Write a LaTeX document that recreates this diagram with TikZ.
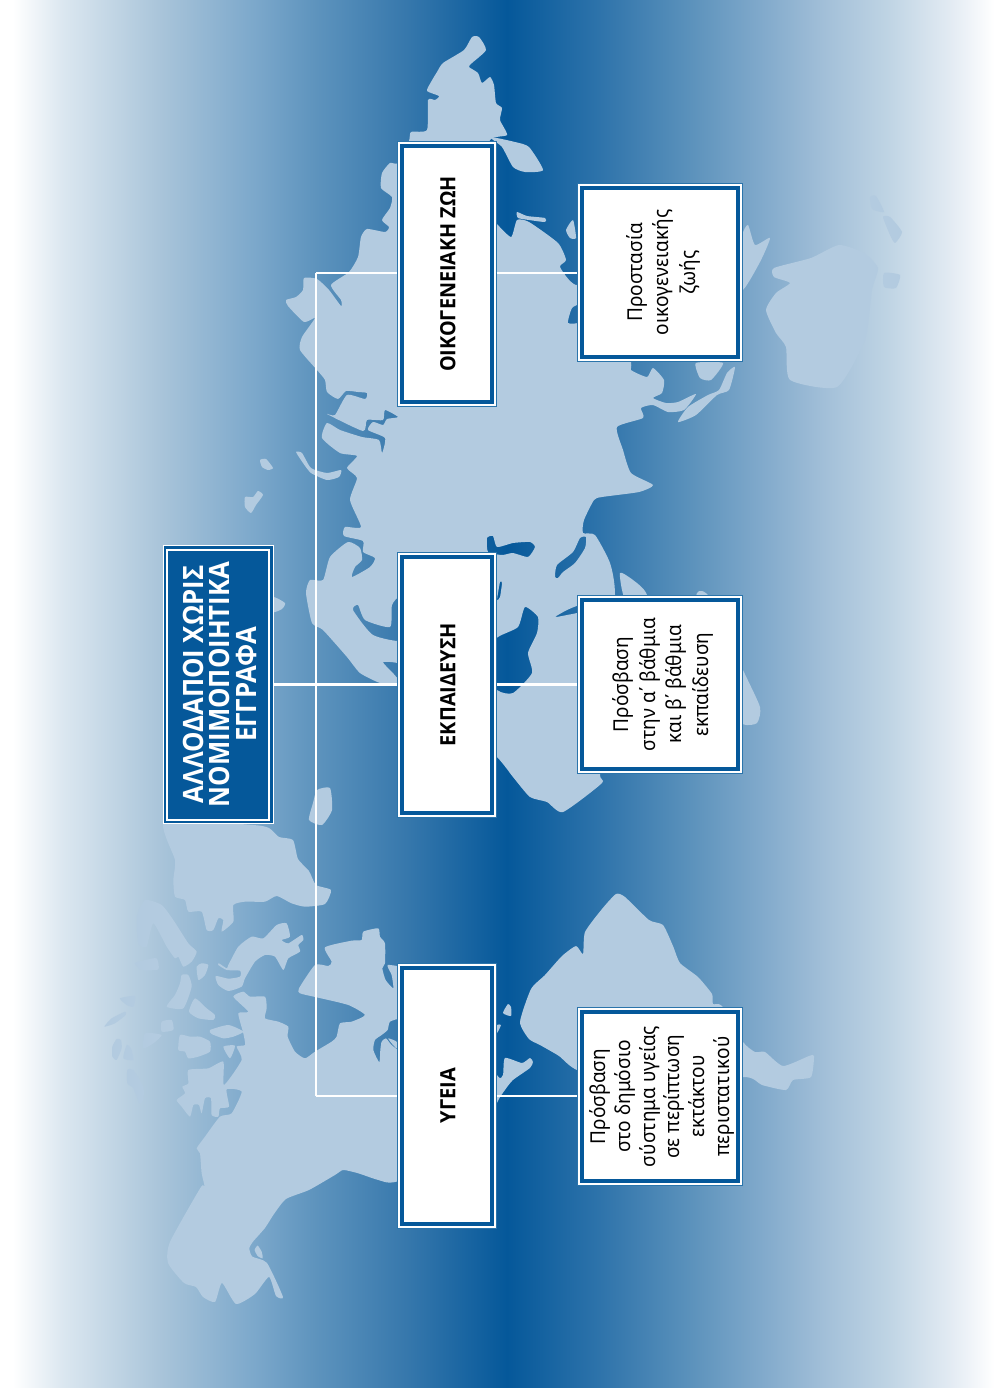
\documentclass[tikz,border=0pt]{standalone}
\usepackage{fontspec}
\setmainfont{Noto Sans}
\newfontfamily\boldface{Open Sans}[Scale=1]
\definecolor{land}{HTML}{B3CBE0}
\definecolor{boxblue}{HTML}{05589A}
\definecolor{hair}{HTML}{2A74AB}
\definecolor{ga}{HTML}{FFFFFF}\definecolor{gb}{HTML}{DBE7F0}\definecolor{gc}{HTML}{AAC5DA}
\definecolor{gd}{HTML}{7CA8CB}\definecolor{ge}{HTML}{5D93BD}\definecolor{gf}{HTML}{3476AB}
\definecolor{gg}{HTML}{05589A}\definecolor{gh}{HTML}{2F74AB}\definecolor{gi}{HTML}{5F94BD}
\definecolor{gj}{HTML}{80A9CB}\definecolor{gk}{HTML}{A2BFD8}\definecolor{gl}{HTML}{BFD4E4}
\definecolor{gm}{HTML}{E3EBF3}
\pgfdeclarehorizontalshading{bgfade}{100bp}{color(0bp)=(ga);color(25.65bp)=(ga);color(28.17bp)=(gb);color(32.95bp)=(gc);color(37.78bp)=(gd);color(40.95bp)=(ge);color(45.72bp)=(gf);color(50.5bp)=(gg);color(55.28bp)=(gh);color(60.06bp)=(gi);color(63.23bp)=(gj);color(66.45bp)=(gk);color(69.67bp)=(gl);color(72.84bp)=(gm);color(75bp)=(ga);color(100bp)=(ga)}
\tikzset{
 poly/.style={smooth cycle,tension=.35},
 landfill/.style={fill=land,draw=none},
 zsix/.style={shift={(95,880)},x=.3333pt,y=-.3333pt},
 wbox/.style={draw=hair,line width=.8pt,fill=white,inner sep=0pt,text=black,
  path picture={\draw[boxblue,line width=4pt] ([xshift=4.5pt,yshift=-4.5pt]path picture bounding box.north west) rectangle ([xshift=-4.5pt,yshift=4.5pt]path picture bounding box.south east);}},
 tbox/.style={draw=white,line width=.8pt,fill=boxblue,inner sep=0pt,text=white,
  path picture={\draw[white,line width=2pt] ([xshift=4pt,yshift=-4pt]path picture bounding box.north west) rectangle ([xshift=-4pt,yshift=4pt]path picture bounding box.south east);}},
 headbox/.style={wbox,minimum width=99pt,minimum height=265pt},
 subbox/.style={wbox,minimum width=165pt,minimum height=178pt},
 link/.style={white,line width=2.2pt},
}
\newcommand{\vtext}[4]{\rotatebox{90}{\scalebox{#1}[1]{\parbox{#2}{\lineskiplimit=-20pt\centering #3 #4\par}}}}
\newcommand{\fh}{\boldface\bfseries\fontsize{21}{26}\selectfont}
\newcommand{\fs}{\fontsize{20.5}{26.5}\selectfont}
\newcommand{\fss}{\fontsize{20.5}{24.7}\selectfont}
\newcommand{\ft}{\boldface\bfseries\fontsize{28}{26.5}\selectfont}
\begin{document}
\begin{tikzpicture}[x=1pt,y=-1pt]
\useasboundingbox (0,0) rectangle (994,1388);
\shade[shading=bgfade] (0,0) rectangle (994,1388);
% Eurasia + Africa
\fill[landfill,even odd rule]
 plot[poly] coordinates {(472,37)(464,50)(443,63)(437,72)(431,82)(427,91)(439,96)(435,100)(428,100)(427,130)(411,132)(409,141)(398,163)(390,163)(382,173)(381,188)(392,197)(390,208)(382,220)(389,227)(385,232)(367,229)(361,237)(358,257)(349,272)(331,285)(341,300)(341,306)(329,290)(317,279)(304,278)(303,290)(296,297)(286,300)(288,306)(304,322)(315,318)(302,337)(300,350)(317,370)(325,380)(327,392)(338,399)(346,391)(358,392)(367,393)(365,399)(347,395)(335,415)(327,414)(363,431)(367,420)(383,420)(385,410)(398,417)(387,419)(383,425)(373,422)(368,430)(385,438)(382,453)(379,440)(362,437)(340,430)(327,423)(322,438)(340,453)(357,456)(347,468)(357,478)(350,500)(361,527)(345,527)(344,536)(363,541)(363,552)(375,558)(370,567)(352,577)(355,567)(362,560)(360,548)(348,542)(330,557)(323,580)(310,580)(306,593)(312,623)(323,630)(347,657)(360,673)(380,683)(397,684)(440,700)(497,757)(513,777)(530,797)(547,802)(563,812)(602,783)(600,773)(610,700)(615,595)(610,563)(595,535)(583,533)(584,520)(594,500)(602,497)(639,492)(653,485)(631,473)(623,450)(617,427)(643,418)(641,408)(653,405)(668,412)(684,410)(696,394)(678,402)(666,403)(653,398)(662,393)(664,380)(653,368)(647,377)(631,370)(631,362)(620,280)(576,285)(560,267)(566,260)(558,243)(529,222)(517,220)(511,237)(496,223)(490,215)(480,180)(490,140)(507,135)(500,120)(502,108)(496,103)(494,85)(490,77)(482,83)(478,73)(469,67)(472,63)(486,50)(479,37)}
 plot[poly] coordinates {(497,690)(513,693)(532,673)(528,653)(537,633)(538,617)(525,607)(518,627)(498,637)(470,660)}
 plot[poly] coordinates {(487,538)(493,536)(497,547)(513,543)(530,542)(535,547)(528,557)(513,553)(502,555)(488,552)}
 plot[poly] coordinates {(497,600)(500,582)(502,583)(500,597)}
 plot[poly] coordinates {(555,577)(557,565)(573,552)(580,538)(586,537)(585,548)(575,563)(563,572)(558,578)}
 plot[poly] coordinates {(555,617)(567,610)(580,605)(580,612)(567,615)}
 plot[poly] coordinates {(353,610)(358,605)(365,620)(390,627)(392,605)(400,598)(405,640)(373,635)}
 plot[poly] coordinates {(383,662)(400,664)(400,680)(392,672)}
 plot[poly] coordinates {(572,308)(580,305)(580,322)(568,323)};
% other land of the old world
\fill[landfill] plot[poly] coordinates {(490,137)(515,142)(529,147)(543,170)(525,172)(513,167)(502,147)};
\fill[landfill] plot[poly] coordinates {(620,573)(633,580)(647,595)(655,650)(625,600)};
\fill[landfill] plot[poly] coordinates {(697,593)(710,598)(743,670)(760,707)(757,723)(742,724)(700,700)(690,640)};
\fill[landfill] plot[poly] coordinates {(317,790)(330,788)(332,810)(322,825)(309,820)(313,803)};
\fill[landfill] plot[poly] coordinates {(273,597)(285,603)(282,609)(273,612)};
\fill[landfill] plot[poly] coordinates {(296,452)(302,453)(311,468)(327,473)(341,470)(339,477)(327,480)(311,473)(303,463)};
\fill[landfill] plot[poly] coordinates {(260,460)(266,459)(273,468)(268,470)(262,467)};
\fill[landfill] plot[poly] coordinates {(245,497)(253,497)(258,491)(263,495)(256,505)(251,513)(245,507)};
% east: Australia and islands
\fill[landfill] plot[poly] coordinates {(774,268)(811,258)(839,245)(864,253)(878,268)(872,290)(865,340)(837,387)(790,380)(786,347)(776,333)(766,310)(776,293)(790,283)(774,277)};
\fill[landfill] plot[poly] coordinates {(870,197)(876,196)(884,212)(872,209)};
\fill[landfill] plot[poly] coordinates {(883,217)(890,217)(902,232)(895,243)(890,235)};
\fill[landfill] plot[poly] coordinates {(884,273)(900,275)(896,288)(884,287)};
\fill[landfill] plot[poly] coordinates {(742,237)(748,225)(755,245)(770,238)(760,262)(742,290)};
\fill[landfill] plot[poly] coordinates {(696,363)(723,363)(711,380)(700,378)};
\fill[landfill] plot[poly] coordinates {(735,367)(729,390)(717,395)(696,415)(678,422)(688,407)(708,395)(719,390)(727,373)};
\fill[landfill] plot[poly] coordinates {(566,230)(573,220)(576,238)(570,238)};
\fill[landfill] plot[poly] coordinates {(517,212)(527,216)(545,218)(545,222)(529,220)(518,218)};
% South America
\fill[landfill] plot[poly] coordinates {(616,894)(625,897)(649,920)(663,925)(673,946)(680,963)(698,977)(712,994)(713,1004)(722,1006)(743,1042)(755,1052)(765,1052)(783,1066)(809,1056)(814,1056)(811,1077)(793,1080)(786,1090)(762,1085)(743,1077)(640,1090)(577,1070)(559,1056)(540,1045)(529,1039)(520,1022)(531,989)(545,975)(562,956)(576,946)(583,954)(585,932)(602,909)};
\fill[landfill] plot[poly] coordinates {(508,1004)(511,1007)(511,1016)(503,1013)};
\fill[landfill] plot[poly] coordinates {(497,1025)(501,1025)(497,1033)};
% North America
\begin{scope}[zsix]
\fill[landfill,even odd rule] plot[poly] coordinates {(330,925)(320,880)(315,820)(305,805)(330,770)(375,710)(410,700)(440,635)(395,628)(402,680)(375,685)(370,710)(350,705)(348,655)(330,655)(320,700)(312,675)(295,675)(285,710)(260,680)(245,660)(270,640)(262,620)(280,610)(280,570)(340,565)(385,545)(387,615)(440,540)(425,500)(450,495)(445,460)(430,400)(460,395)(415,350)(445,335)(465,350)(510,350)(515,385)(510,415)(550,425)(580,440)(578,470)(600,515)(630,535)(660,515)(710,485)(725,470)(735,430)(770,425)(810,405)(760,375)(665,352)(615,340)(612,325)(660,255)(700,258)(710,245)(690,202)(770,182)(800,180)(805,155)(850,145)(855,170)(870,190)(870,250)(862,265)(872,300)(895,325)(890,285)(878,255)(935,262)(945,250)(955,262)(1100,400)(1206,585)(1224,585)(1230,534)(1281,549)(1305,534)(1314,546)(1305,564)(1254,600)(1230,630)(1206,669)(1150,820)(905,905)(850,900)(790,880)(745,870)(720,885)(642,930)(573,957)(537,1002)(510,1044)(474,1085)(463,1105)(472,1130)(516,1149)(564,1251)(543,1248)(522,1191)(480,1242)(423,1272)(381,1209)(360,1266)(324,1251)(303,1221)(267,1209)(219,1149)(225,1086)(318,921)}
 plot[poly] coordinates {(920,420)(885,425)(878,450)(860,465)(840,480)(835,510)(853,547)(856,510)(860,485)(873,475)(890,495)(920,512)}
 plot[poly] coordinates {(880,475)(905,485)(905,505)(890,490)};
\fill[landfill] plot[poly] coordinates {(488,1097)(500,1115)(503,1135)(488,1128)(479,1110)};
\fill[landfill] plot[poly] coordinates {(210,-177)(474,-165)(522,-156)(552,-129)(594,-120)(609,-63)(642,-27)(663,15)(708,30)(690,72)(630,80)(590,70)(545,48)(510,65)(450,65)(415,75)(415,125)(380,155)(385,120)(370,115)(355,150)(335,150)(320,95)(280,95)(270,60)(240,50)(235,0)(240,-60)};
\fill[landfill] plot[poly] coordinates {(125,110)(150,60)(200,75)(235,120)(280,190)(305,215)(290,245)(265,260)(250,230)(240,235)(215,200)(175,130)(155,200)(130,190)};
\fill[landfill] plot[poly] coordinates {(120,250)(150,240)(185,235)(190,268)(140,270)};
\fill[landfill] plot[poly] coordinates {(305,260)(320,250)(340,255)(330,285)(310,300)};
\fill[landfill] plot[poly] coordinates {(400,255)(430,200)(470,170)(505,175)(545,135)(575,130)(585,170)(560,180)(580,190)(620,165)(625,180)(610,195)(615,215)(580,235)(565,270)(540,230)(510,225)(480,245)(450,295)(440,320)(400,333)(370,315)(362,288)(400,296)(435,290)(435,272)(395,270)(370,255)(372,250)(395,265)};
\fill[landfill] plot[poly] coordinates {(260,285)(280,285)(290,320)(265,385)(215,380)(240,345)(255,310)};
\fill[landfill] plot[poly] coordinates {(300,355)(335,385)(360,405)(355,420)(310,415)(282,395)};
\fill[landfill] plot[poly] coordinates {(200,425)(230,420)(235,450)(200,455)};
\fill[landfill] plot[poly] coordinates {(345,450)(400,435)(445,455)(415,470)(385,475)(350,462)};
\fill[landfill] plot[poly] coordinates {(255,465)(285,470)(315,470)(345,485)(345,515)(310,530)(280,535)(270,515)(250,510)};
\fill[landfill] plot[poly] coordinates {(150,460)(200,465)(175,490)(145,505)};
\fill[landfill] plot[poly] coordinates {(75,355)(120,348)(115,380)(95,375)};
\fill[landfill] plot[poly] coordinates {(28,440)(50,415)(90,395)(92,405)(60,430)};
\fill[landfill] plot[poly] coordinates {(65,477)(78,480)(80,505)(65,540)(52,530)(52,500)};
\fill[landfill] plot[poly] coordinates {(95,495)(108,505)(115,540)(85,535)};
\fill[landfill] plot[poly] coordinates {(97,570)(115,570)(145,620)(145,660)(133,670)(115,625)(97,610)};
\fill[landfill] plot[poly] coordinates {(385,500)(420,497)(405,535)};
\end{scope}
% nodes
\node[tbox,minimum width=110pt,minimum height=278pt] (title) at (218,684.5) {\kern3pt\vtext{.92}{290pt}{\ft}{ΑΛΛΟΔΑΠΟΙ ΧΩΡΙΣ\\ ΝΟΜΙΜΟΠΟΙΗΤΙΚΑ\\ ΕΓΓΡΑΦΑ}};
\node[headbox] (fam) at (446.8,274) {\kern2pt\vtext{.94}{270pt}{\fh}{ΟΙΚΟΓΕΝΕΙΑΚΗ ΖΩΗ}};
\node[headbox] (edu) at (446.8,684.5) {\kern2pt\vtext{.95}{270pt}{\fh}{ΕΚΠΑΙΔΕΥΣΗ}};
\node[headbox] (hea) at (446.8,1095.5) {\kern2pt\vtext{.95}{270pt}{\fh}{ΥΓΕΙΑ}};
\node[subbox] (famsub) at (660,272.5) {\kern6pt\vtext{.93}{170pt}{\fs}{Προστασία\\ οικογενειακής\\ ζωής}};
\node[subbox] (edusub) at (660,684.5) {\kern6pt\vtext{.93}{170pt}{\fs}{Πρόσβαση\\ στην α΄ βάθμια\\ και β΄ βάθμια\\ εκπαίδευση}};
\node[subbox] (heasub) at (660,1096.5) {\kern4pt\vtext{.93}{170pt}{\fss}{Πρόσβαση\\ στο δημόσιο\\ σύστημα υγείας\\ σε περίπτωση\\ εκτάκτου\\ περιστατικού}};
\coordinate (bustop) at (316,273);
\coordinate (busbot) at (316,1096);
\draw[link] (bustop) -- (busbot);
\draw[link] (bustop) -- (bustop -| fam.west);
\draw[link] (busbot) -- (busbot -| hea.west);
\draw[link] (title.east) -- (edu.west);
\draw[link] (fam.east |- bustop) -- (famsub.west |- bustop);
\draw[link] (edu.east) -- (edusub.west);
\draw[link] (hea.east |- busbot) -- (heasub.west |- busbot);
\end{tikzpicture}
\end{document}
